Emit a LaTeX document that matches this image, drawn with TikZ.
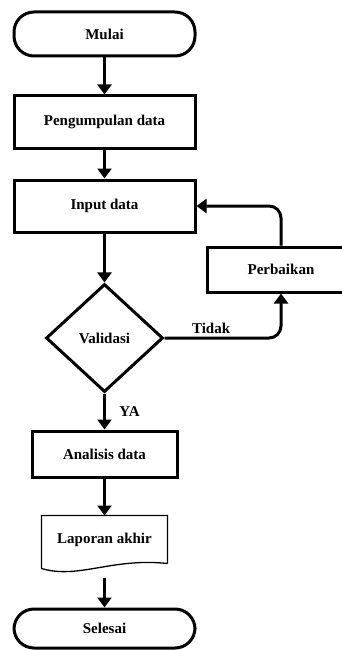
\documentclass[tikz,border=0pt]{standalone}
\usepackage{fontspec}
\setmainfont{Liberation Serif}
\usetikzlibrary{shapes.geometric,arrows.meta}
\begin{document}
\begin{tikzpicture}[x=1pt,y=-1pt,line width=3pt,>={Triangle[length=10pt,width=14pt]},
term node/.style={rectangle,draw,rounded corners=20pt,minimum width=181pt,inner sep=0pt},
main node/.style={rectangle,draw,minimum width=181pt,minimum height=52pt,inner sep=0pt},
doc node/.style={rectangle,minimum width=123pt,minimum height=45pt,inner sep=0pt}]%
\useasboundingbox (0,0) rectangle (342,650);
\begin{scope}[every node/.style={font=\fontsize{15}{17}\selectfont\bfseries}]
\node[term node,minimum height=44pt] (start) at (104.5,34) {Mulai};
\node[main node] (collect) at (104.5,122) {Pengumpulan data};
\node[main node] (input) at (104.5,206) {Input data};
\node[diamond,draw,minimum width=117pt,minimum height=108pt,inner sep=0pt] (valid) at (104.5,338) {Validasi};
\node[main node,minimum width=148pt,minimum height=45pt] (fix) at (281,269.5) {Perbaikan};
\node[main node,minimum width=145pt,minimum height=46pt] (analysis) at (104.5,454) {Analisis data};
\node[doc node] (report) at (104.5,539.5) {Laporan akhir};
\node[term node,minimum height=39pt] (finish) at (104.5,628.5) {Selesai};
%\node[main node] () at (,) {};
\end{scope}
\draw[line width=1.3pt] (report.south east) -- (report.north east) -- (report.north west) -- ([yshift=-5pt]report.south west) .. controls +(37,11) and +(-56,-6) .. (report.south east);
\begin{scope}[->,every node/.style={font=\fontsize{15}{17}\selectfont\bfseries}]
\draw (start) edge node{} (collect);
\draw (collect) edge node{} (input);
\draw (input) edge node{} (valid);
\draw[rounded corners=12pt] (valid.east) -| node[pos=.2,above]{Tidak} (fix.south);
\draw[rounded corners=12pt] (fix.north) |- (input.east);
\draw (valid) edge node[right=10pt]{YA} (analysis);
\draw (analysis) edge node{} (report);
\draw[shorten <=14pt] (report.south) -- (finish.north);
%\draw (v) edge node{} (v);
\end{scope}
\end{tikzpicture}
\end{document}
